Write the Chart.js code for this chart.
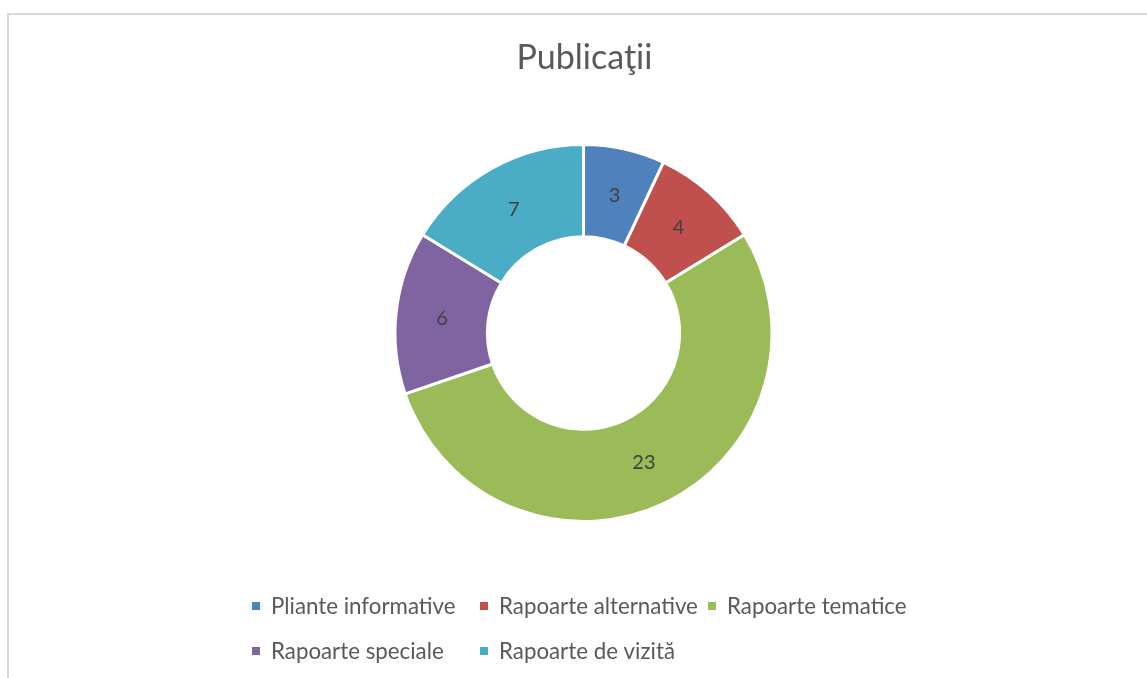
<!DOCTYPE html>
<html>
<head>
<meta charset="utf-8">
<script src="https://cdn.jsdelivr.net/npm/chart.js@4.4.1/dist/chart.umd.min.js"></script>
<style>
  html, body { margin: 0; padding: 0; background: #ffffff; overflow: hidden; }
  #wrap { position: absolute; left: 0; top: 0; width: 1147px; height: 678px; }
  #frame { position: absolute; left: 7px; top: 13px; width: 1160px; height: 680px;
           border-left: 2px solid #d9d9d9; border-top: 2px solid #d9d9d9; pointer-events: none; }
</style>
</head>
<body>
<div id="wrap">
  <canvas id="c" width="1147" height="678"></canvas>
  <div id="frame"></div>
</div>
<script>
const chartTitle = "Publicaţii";
const categories = ["Pliante informative", "Rapoarte alternative", "Rapoarte tematice", "Rapoarte speciale", "Rapoarte de vizită"];
const values = [3, 4, 23, 6, 7];
const colors = ["#4F81BD", "#C0504D", "#9BBB59", "#8064A2", "#4BACC6"];

const FONT = "Lato, 'Open Sans', sans-serif";

const titlePlugin = {
  id: 'excelTitle',
  afterDraw(chart) {
    const ctx = chart.ctx;
    ctx.save();
    ctx.fillStyle = '#595959';
    ctx.font = "34px " + FONT;
    ctx.textAlign = 'center';
    ctx.textBaseline = 'alphabetic';
    ctx.fillText(chartTitle, 584.5, 69);
    ctx.restore();
  }
};

const labelPlugin = {
  id: 'midLabels',
  afterDatasetsDraw(chart) {
    const ctx = chart.ctx;
    const meta = chart.getDatasetMeta(0);
    ctx.save();
    ctx.fillStyle = '#404040';
    ctx.font = "20px " + FONT;
    ctx.textAlign = 'center';
    ctx.textBaseline = 'middle';
    meta.data.forEach((arc, i) => {
      const p = arc.getProps(['x', 'y', 'startAngle', 'endAngle', 'innerRadius', 'outerRadius'], true);
      const a = (p.startAngle + p.endAngle) / 2;
      const r = (p.innerRadius + p.outerRadius) / 2;
      ctx.fillText(String(chart.data.datasets[0].data[i]), p.x + Math.cos(a) * r, p.y + Math.sin(a) * r + 1);
    });
    ctx.restore();
  }
};

const legendPlugin = {
  id: 'excelLegend',
  afterDraw(chart) {
    const ctx = chart.ctx;
    const x0 = 252, colW = 228, rowsY = [606, 651], perRow = 3, box = 8, textGap = 19;
    ctx.save();
    ctx.font = "22.3px " + FONT;
    ctx.textBaseline = 'middle';
    ctx.textAlign = 'left';
    categories.forEach((name, i) => {
      const col = i % perRow, row = Math.floor(i / perRow);
      const x = x0 + col * colW, y = rowsY[row];
      ctx.fillStyle = colors[i];
      ctx.fillRect(x, y - box / 2, box, box);
      ctx.fillStyle = '#595959';
      ctx.fillText(name, x + textGap, y + 1);
    });
    ctx.restore();
  }
};

new Chart(document.getElementById('c'), {
  type: 'doughnut',
  data: {
    labels: categories,
    datasets: [{
      data: values,
      backgroundColor: colors,
      borderColor: '#ffffff',
      borderWidth: 3,
      hoverOffset: 0
    }]
  },
  options: {
    responsive: false,
    animation: false,
    cutout: '51%',
    rotation: 0,
    layout: { padding: { top: 143, bottom: 155, left: 40, right: 20 } },
    plugins: {
      legend: { display: false },
      title: { display: false },
      tooltip: { enabled: false }
    }
  },
  plugins: [titlePlugin, labelPlugin, legendPlugin]
});
</script>
</body>
</html>
